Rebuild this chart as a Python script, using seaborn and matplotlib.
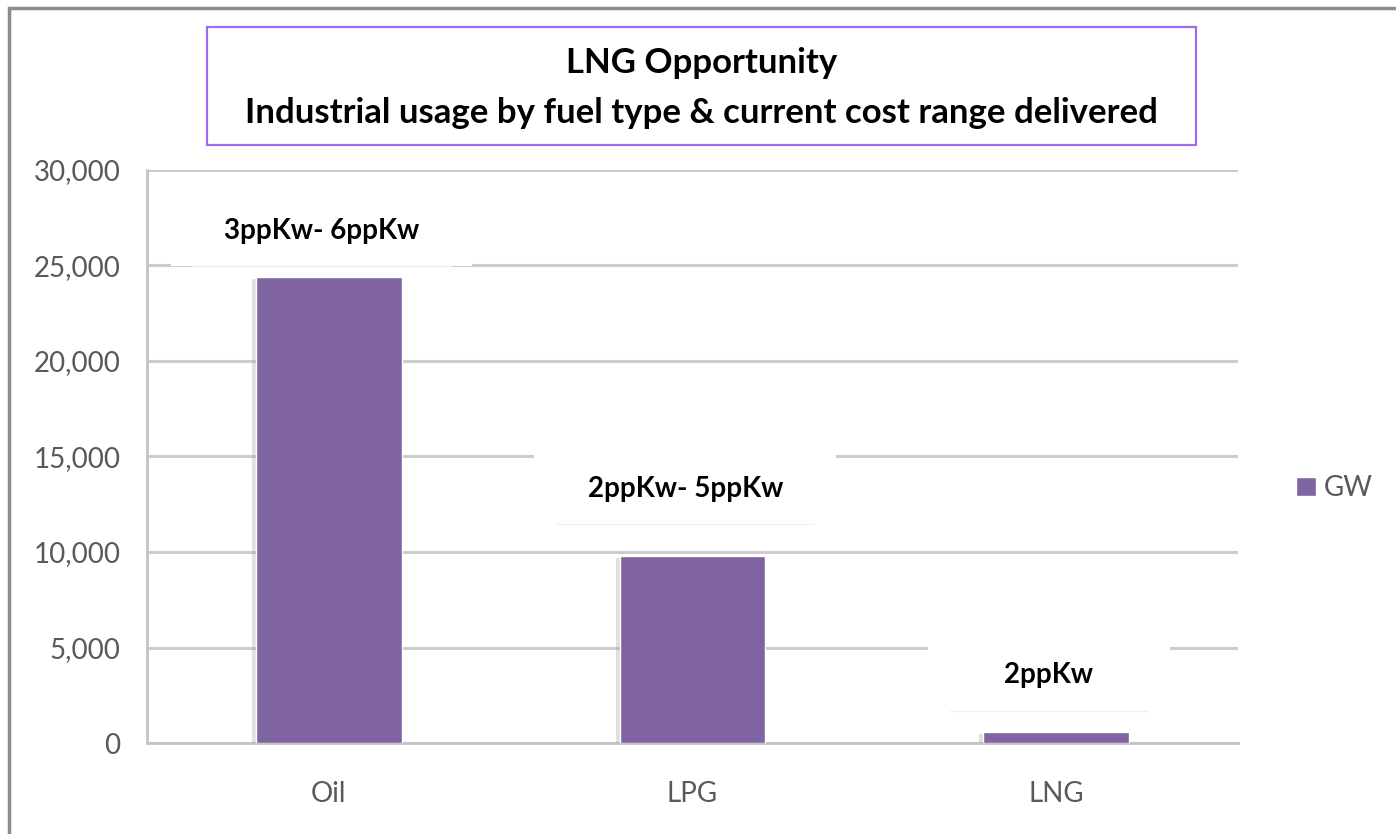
import numpy as np
import pandas as pd
import matplotlib
matplotlib.use("Agg")
import matplotlib.pyplot as plt
import matplotlib.patheffects as pe
from matplotlib.patches import Rectangle
import seaborn as sns

# ==========================================
# DATOS
# ==========================================
fuels = ["Oil", "LPG", "LNG"]
gw = [24400, 9800, 600]
cost_labels = ["3ppKw- 6ppKw", "2ppKw- 5ppKw", "2ppKw"]
series_name = "GW"
title_lines = ["LNG Opportunity",
               "Industrial usage by fuel type & current cost range delivered"]
y_ticks = [0, 5000, 10000, 15000, 20000, 25000, 30000]

# layout of the cost labels (baseline above bar top, white box size)
label_gap = [2000, 3100, 2550]
box_width = [0.83, 0.83, 0.665]
BOX_BELOW, BOX_ABOVE = 1450, 2550
LABEL_SHIFT = -0.02

BAR_COLOR = "#8064A2"
GRID_COLOR = "#cccccc"
TEXT_GRAY = "#595959"

sns.set_style("white")
plt.rcParams["font.family"] = ["Lato", "DejaVu Sans"]

df = pd.DataFrame({"fuel": fuels, "gw": gw})

fig = plt.figure(figsize=(13.96, 8.34), dpi=100)
ax = fig.add_axes([0.1053, 0.1091, 0.7815, 0.6871])

sns.barplot(data=df, x="fuel", y="gw", color=BAR_COLOR, saturation=1,
            width=0.4, label=series_name, ax=ax, zorder=3)

# leyenda (antes de la sombra para que el cuadrito no la copie)
ax.legend(loc="center left", bbox_to_anchor=(1285 / 1396, 1 - 488 / 834),
          bbox_transform=fig.transFigure, frameon=False, fontsize=20,
          labelcolor=TEXT_GRAY, handlelength=0.7, handleheight=0.7,
          handletextpad=0.3, borderaxespad=0)

for bar in ax.containers[0]:
    bar.set_path_effects([pe.SimplePatchShadow(offset=(-3, -1.5), shadow_rgbFace="#9a9a9a", alpha=0.3),
                          pe.Normal()])

# ejes
ax.set_ylim(0, 30000)
ax.set_xlim(-0.5, len(fuels) - 0.5)
ax.set_yticks(y_ticks)
ax.set_yticklabels([f"{v:,}" for v in y_ticks])
ax.set_xlabel("")
ax.set_ylabel("")
ax.set_axisbelow(True)
ax.yaxis.grid(True, color=GRID_COLOR, linewidth=2.2, zorder=0)
ax.xaxis.grid(False)

for side in ["top", "right"]:
    ax.spines[side].set_visible(False)
for side in ["left", "bottom"]:
    ax.spines[side].set_color("#c4c4c4")
    ax.spines[side].set_linewidth(2)

ax.tick_params(axis="y", length=7, width=2, color="#c4c4c4", labelsize=20,
               labelcolor=TEXT_GRAY, pad=12)
ax.tick_params(axis="x", which="major", length=0, labelsize=20,
               labelcolor=TEXT_GRAY, pad=27)
ax.set_xticks(np.arange(-0.5, len(fuels)), minor=True)
ax.tick_params(axis="x", which="minor", length=9, width=2, color="#c4c4c4")

# etiquetas de coste con caja blanca que tapa la rejilla
for i, (val, lab) in enumerate(zip(gw, cost_labels)):
    base = val + label_gap[i]
    xc = i + LABEL_SHIFT
    ax.add_patch(Rectangle((xc - box_width[i] / 2, base - BOX_BELOW), box_width[i],
                           BOX_BELOW + BOX_ABOVE, facecolor="white",
                           edgecolor="none", zorder=2))
    ax.plot([xc - box_width[i] / 2 + 0.06, xc + box_width[i] / 2 - 0.06],
            [base - BOX_BELOW, base - BOX_BELOW], color="#eef2f6", lw=1, zorder=2)
    ax.text(xc, base, lab, ha="center", va="baseline", fontsize=20,
            fontweight="bold", color="black", zorder=4)

# título dentro de recuadro morado
fig.add_artist(Rectangle((207 / 1396, 1 - 145 / 834), 989 / 1396, 118 / 834,
                         transform=fig.transFigure, fill=False,
                         edgecolor="#9b6bf2", linewidth=1.6))
fig.text(0.5025, 1 - 73 / 834, title_lines[0], ha="center", va="baseline",
         fontsize=25, fontweight="bold", color="black")
fig.text(0.5025, 1 - 123 / 834, title_lines[1], ha="center", va="baseline",
         fontsize=25, fontweight="bold", color="black")

# marco exterior gris
fig.add_artist(Rectangle((9 / 1396, -0.2), 1.3, 1.2 - 8 / 834,
                         transform=fig.transFigure, fill=False,
                         edgecolor="#8c8c8c", linewidth=2.5))

fig.savefig("out.png", dpi=100)
plt.close(fig)
